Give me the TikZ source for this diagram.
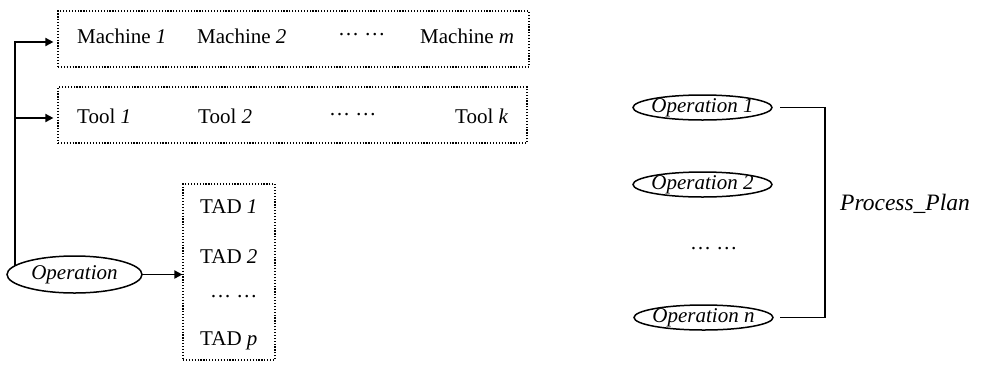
\documentclass[tikz,border=0pt]{standalone}
\usepackage{fontspec}
\setmainfont{Liberation Serif}
\usetikzlibrary{arrows.meta}
\newcommand{\mydots}{\raisebox{0.35em}{…\ …}}
\begin{document}
\begin{tikzpicture}[x=1pt,y=-1pt,
  every node/.style={inner sep=0pt,font=\fontsize{21}{25}\selectfont},
  lbl/.style={anchor=base west},
  dotbox/.style={draw,line width=1.2pt,dash pattern=on 1.2pt off 1.7pt},
  arr/.style={line width=1.8pt,-{Triangle[length=8pt,width=8pt]}},
  oval/.style={line width=1.5pt},
  link/.style={line width=1.8pt}]
\useasboundingbox (0,0) rectangle (981,370);
% boxes
\node[dotbox,minimum width=471pt,minimum height=56pt] (mbox) at (293.5,39) {};
\node[dotbox,minimum width=469pt,minimum height=56pt] (tbox) at (292.5,115) {};
\node[dotbox,minimum width=92pt,minimum height=176pt] (tad) at (229,272) {};
% machine row
\node[lbl] (m1) at (77,43) {Machine \textit{1}};
\node[lbl] (m2) at (197,43) {Machine \textit{2}};
\node[lbl] (md) at (338,43) {\mydots};
\node[lbl] (mm) at (420,43) {Machine \textit{m}};
% tool row
\node[lbl] (t1) at (77,123) {Tool \textit{1}};
\node[lbl] (t2) at (198,123) {Tool \textit{2}};
\node[lbl] (td) at (329,123) {\mydots};
\node[lbl] (tk) at (455,123) {Tool \textit{k}};
% TAD column
\node[lbl] (a1) at (200,213) {TAD \textit{1}};
\node[lbl] (a2) at (200,263) {TAD \textit{2}};
\node[lbl] (ad) at (210,305) {\mydots};
\node[lbl] (ap) at (200,345) {TAD \textit{p}};
% operation
\node (op) at (74.5,274.5) {\textit{Operation}};
\draw[oval] (op.center) ellipse [x radius=67.5, y radius=18.5];
\coordinate (opE) at ([xshift=67.5pt]op.center);
\coordinate (opS) at ([xshift=-59.5pt,yshift=8.7pt]op.center);
\draw[arr,shorten >=4pt] (opS) |- ([yshift=-3pt]mbox.west);
\draw[arr,shorten >=4pt] (opS) |- ([yshift=-3pt]tbox.west);
\draw[arr] (opE) -- (opE -| tad.west);
% process plan
\node (o1) at (702.5,107.5) {\textit{Operation 1}};
\draw[oval] (o1.center) ellipse [x radius=69.5, y radius=12.5];
\node (o2) at (702.5,184.5) {\textit{Operation 2}};
\draw[oval] (o2.center) ellipse [x radius=69.5, y radius=12.5];
\node[lbl] (od) at (690,257) {\mydots};
\node (on) at (703.5,317.5) {\textit{Operation n}};
\draw[oval] (on.center) ellipse [x radius=69.5, y radius=12.5];
\coordinate (b1) at ([xshift=77.5pt]o1.center);
\coordinate (b2) at ([xshift=76.5pt]on.center);
\draw[link] (b1) -- ++(45,0) |- (b2);
\node[anchor=base west,font=\fontsize{23.5}{28}\selectfont] (pp) at (840,210) {\textit{Process\_Plan}};
\end{tikzpicture}
\end{document}
